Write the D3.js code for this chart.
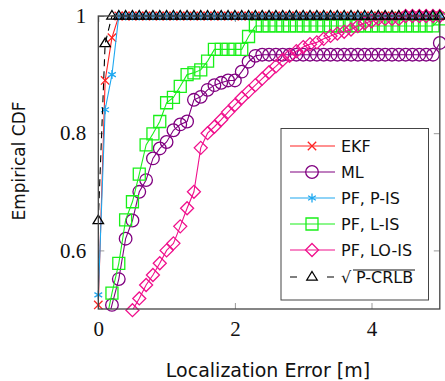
<!DOCTYPE html>
<html>
<head>
<meta charset="utf-8">
<style>
  body, html { margin: 0; background: #fff; }
  svg { display: block; }
  .tick text { font-family: "Liberation Serif", serif; font-size: 21px; fill: #111; }
  .lab { font-family: "DejaVu Sans", sans-serif; font-size: 17px; fill: #111; }
  .leg { font-family: "DejaVu Sans", sans-serif; font-size: 16px; fill: #111; }
</style>
</head>
<body>
<script src="https://cdnjs.cloudflare.com/ajax/libs/d3/7.8.5/d3.min.js"></script>
<script>
// x grid (m), step 0.1
var xs = [0, 0.1, 0.2, 0.3, 0.4, 0.5, 0.6, 0.7, 0.8, 0.9,
          1.0, 1.1, 1.2, 1.3, 1.4, 1.5, 1.6, 1.7, 1.8, 1.9,
          2.0, 2.1, 2.2, 2.3, 2.4, 2.5, 2.6, 2.7, 2.8, 2.9,
          3.0, 3.1, 3.2, 3.3, 3.4, 3.5, 3.6, 3.7, 3.8, 3.9,
          4.0, 4.1, 4.2, 4.3, 4.4, 4.5, 4.6, 4.7, 4.8, 4.9, 5.0]

// every curve leaves from below the visible range at x = 0
var origin = [0, 0.3]

var ekf = [0.507, 0.89, 0.963, 1, 1, 1, 1, 1, 1, 1,
           1, 1, 1, 1, 1, 1, 1, 1, 1, 1,
           1, 1, 1, 1, 1, 1, 1, 1, 1, 1,
           1, 1, 1, 1, 1, 1, 1, 1, 1, 1,
           1, 1, 1, 1, 1, 1, 1, 1, 1, 1, 1]

var ml = [0.40, 0.46, 0.507, 0.551, 0.62, 0.651, 0.70, 0.72, 0.757, 0.774,
          0.785, 0.805, 0.815, 0.82, 0.857, 0.862, 0.874, 0.882, 0.886, 0.89,
          0.89, 0.905, 0.922, 0.932, 0.934, 0.934, 0.934, 0.934, 0.934, 0.934,
          0.934, 0.934, 0.934, 0.934, 0.934, 0.934, 0.934, 0.934, 0.934, 0.934,
          0.934, 0.934, 0.934, 0.934, 0.934, 0.934, 0.934, 0.934, 0.934, 0.934, 0.954]

var pis = [0.524, 0.84, 0.90, 1, 1, 1, 1, 1, 1, 1,
           1, 1, 1, 1, 1, 1, 1, 1, 1, 1,
           1, 1, 1, 1, 1, 1, 1, 1, 1, 1,
           1, 1, 1, 1, 1, 1, 1, 1, 1, 1,
           1, 1, 1, 1, 1, 1, 1, 1, 1, 1, 1]

var lis = [0.44, 0.47, 0.527, 0.578, 0.652, 0.683, 0.73, 0.78, 0.799, 0.82,
           0.852, 0.861, 0.88, 0.90, 0.903, 0.908, 0.923, 0.943, 0.943, 0.943,
           0.943, 0.943, 0.965, 0.983, 0.983, 0.983, 0.983, 0.983, 0.983, 0.983,
           0.983, 0.983, 0.983, 0.983, 0.983, 0.983, 0.983, 0.983, 0.983, 0.983,
           0.983, 0.983, 0.983, 0.983, 0.983, 0.983, 0.983, 0.983, 0.983, 0.983, 0.995]

var lois = [0.30, 0.36, 0.41, 0.45, 0.475, 0.498, 0.518, 0.541, 0.558, 0.578,
            0.60, 0.612, 0.641, 0.672, 0.70, 0.775, 0.80, 0.811, 0.823, 0.836,
            0.848, 0.86, 0.871, 0.882, 0.893, 0.904, 0.914, 0.925, 0.932, 0.94,
            0.947, 0.952, 0.955, 0.961, 0.966, 0.97, 0.973, 0.977, 0.983, 0.988,
            0.991, 0.995, 0.995, 0.995, 0.995, 1, 1, 1, 1, 1, 1]

var crlb = [0.651, 0.953, 1, 1, 1, 1, 1, 1, 1, 1,
            1, 1, 1, 1, 1, 1, 1, 1, 1, 1,
            1, 1, 1, 1, 1, 1, 1, 1, 1, 1,
            1, 1, 1, 1, 1, 1, 1, 1, 1, 1,
            1, 1, 1, 1, 1, 1, 1, 1, 1, 1, 1]

var names = ['EKF', 'ML', 'PF, P-IS', 'PF, L-IS', 'PF, LO-IS', 'CRLB']
var colors = ['#ff2222', '#800080', '#1ea8f0', '#19f019', '#f0108c', '#000000']
var marks = ['x', 'circle', 'star', 'square', 'diamond', 'triangle']
var allY = [ekf, ml, pis, lis, lois, crlb]

var xTicks = [0, 2, 4]
var yTicks = [0.6, 0.8, 1]

var W = 445, H = 381
var x = d3.scaleLinear().domain([0, 5]).range([98.3, 439.8])
var y = d3.scaleLinear().domain([0.5, 1]).range([309, 16])

var svg = d3.select('body').append('svg').attr('width', W).attr('height', H)

svg.append('clipPath').attr('id', 'clip').append('rect')
  .attr('x', x(0)).attr('y', y(1) - 1.5)
  .attr('width', x(5) - x(0)).attr('height', y(0.5) - y(1) + 1.5)

// ticks (inside, on all four sides)
var ax = svg.append('g').attr('transform', 'translate(0,' + y(0.5) + ')')
  .call(d3.axisBottom(x).tickValues(xTicks).tickSize(-6).tickPadding(12).tickFormat(d3.format('d')))
var axTop = svg.append('g').attr('transform', 'translate(0,' + y(1) + ')')
  .call(d3.axisTop(x).tickValues(xTicks).tickSize(-6).tickFormat(''))
var ay = svg.append('g').attr('transform', 'translate(' + x(0) + ',0)')
  .call(d3.axisLeft(y).tickValues(yTicks).tickSize(-6).tickPadding(12)
    .tickFormat(function(d){ return d === 1 ? '1' : d3.format('.1f')(d) }))
var ayR = svg.append('g').attr('transform', 'translate(' + x(5) + ',0)')
  .call(d3.axisRight(y).tickValues(yTicks).tickSize(-6).tickFormat(''))
;[ax, axTop, ay, ayR].forEach(function(g){
  g.select('.domain').remove()
  g.selectAll('.tick line').attr('stroke', '#999').attr('stroke-width', 1)
})
ax.selectAll('.tick text').attr('dy', '0.71em')

function markPath(type) {
  var s
  if (type === 'x') { s = 4.2; return 'M' + -s + ',' + -s + 'L' + s + ',' + s + 'M' + -s + ',' + s + 'L' + s + ',' + -s }
  if (type === 'circle') { s = 6.3; return 'M' + s + ',0A' + s + ',' + s + ' 0 1,1 ' + -s + ',0A' + s + ',' + s + ' 0 1,1 ' + s + ',0Z' }
  if (type === 'square') { s = 6; return 'M' + -s + ',' + -s + 'H' + s + 'V' + s + 'H' + -s + 'Z' }
  if (type === 'diamond') { s = 6.5; return 'M0,' + -s + 'L' + s + ',0L0,' + s + 'L' + -s + ',0Z' }
  if (type === 'triangle') { s = 5.5; return 'M0,' + -s + 'L' + (s * 0.95) + ',' + (s * 0.55) + 'L' + (-s * 0.95) + ',' + (s * 0.55) + 'Z' }
  if (type === 'star') {
    s = 4.5
    var p = ''
    ;[90, 30, 150].forEach(function(a){
      var r = a * Math.PI / 180, dx = s * Math.cos(r), dy = s * Math.sin(r)
      p += 'M' + dx + ',' + dy + 'L' + -dx + ',' + -dy
    })
    return p
  }
}

var line = d3.line().x(function(d){ return x(d[0]) }).y(function(d){ return y(d[1]) })

allY.forEach(function(ys, i){
  var pts = xs.map(function(v, j){ return [v, ys[j]] })
  var g = svg.append('g')
  g.append('path').datum([origin].concat(pts)).attr('d', line)
    .attr('clip-path', 'url(#clip)')
    .attr('fill', 'none').attr('stroke', colors[i]).attr('stroke-width', 1.1)
    .attr('stroke-dasharray', i === 5 ? '7,5' : null)
  g.selectAll('.m').data(pts.filter(function(d){ return d[1] >= 0.49 })).enter()
    .append('path').attr('class', 'm')
    .attr('transform', function(d){ return 'translate(' + x(d[0]) + ',' + y(d[1]) + ')' })
    .attr('d', markPath(marks[i]))
    .attr('fill', 'none').attr('stroke', colors[i]).attr('stroke-width', 1.3)
})

// frame
svg.append('rect').attr('x', x(0)).attr('y', y(1))
  .attr('width', x(5) - x(0)).attr('height', y(0.5) - y(1))
  .attr('fill', 'none').attr('stroke', '#444').attr('stroke-width', 1.3)

// axis labels
svg.append('text').attr('class', 'lab').attr('x', 268).attr('y', 377)
  .attr('text-anchor', 'middle').style('font-size', '19px').text('Localization Error [m]')
svg.append('text').attr('class', 'lab')
  .attr('transform', 'translate(25,161) rotate(-90)')
  .attr('text-anchor', 'middle').text('Empirical CDF')

// legend
var leg = svg.append('g')
leg.append('rect').attr('x', 281).attr('y', 128.5).attr('width', 147.5).attr('height', 171.5)
  .attr('fill', '#fff').attr('stroke', '#444').attr('stroke-width', 1)
var rowY = [146, 172, 198, 224, 250, 277]
names.forEach(function(n, i){
  var ry = rowY[i]
  if (i === 5) {
    leg.append('path').attr('d', 'M290,' + ry + 'H297M327,' + ry + 'H334')
      .attr('stroke', '#000').attr('stroke-width', 1.1)
  } else {
    leg.append('path').attr('d', 'M290,' + ry + 'H335')
      .attr('stroke', colors[i]).attr('stroke-width', 1.1)
  }
  leg.append('path').attr('transform', 'translate(312,' + ry + ')')
    .attr('d', markPath(marks[i])).attr('fill', 'none')
    .attr('stroke', colors[i]).attr('stroke-width', 1.3)
  if (i === 5) {
    leg.append('text').attr('class', 'leg').attr('x', 341).attr('y', ry + 6).text('\u221A')
    leg.append('path').attr('d', 'M353,' + (ry - 7) + 'H415').attr('stroke', '#111').attr('stroke-width', 1)
    leg.append('text').attr('class', 'leg').attr('x', 356).attr('y', ry + 6).text('P-CRLB')
  } else {
    leg.append('text').attr('class', 'leg').attr('x', 341).attr('y', ry + 6).text(n)
  }
})
</script>
</body>
</html>
